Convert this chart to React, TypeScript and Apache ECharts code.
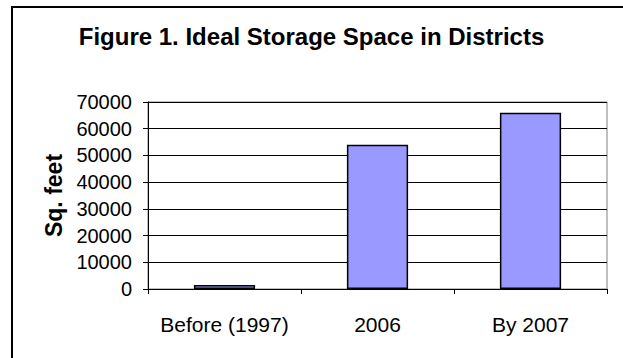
import React, { useEffect, useRef } from "react";
import * as echarts from "echarts";

const titleText = "Figure 1. Ideal Storage Space in Districts";
const categories = ["Before (1997)", "2006", "By 2007"];
const values = [1500, 54000, 66000];
const yAxisName = "Sq. feet";
const yMin = 0;
const yMax = 70000;
const yInterval = 10000;

export default function App() {
  const ref = useRef<HTMLDivElement>(null);
  useEffect(() => {
    if (!ref.current) return;
    const chart = echarts.init(ref.current, null, { renderer: "svg" });
    const font = "Liberation Sans, Arial, sans-serif";
    chart.setOption({
      animation: false,
      backgroundColor: "#ffffff",
      title: {
        text: titleText,
        left: "center",
        top: 19,
        textStyle: { fontFamily: font, fontSize: 24, fontWeight: "bold", color: "#000" },
      },
      graphic: [
        {
          type: "rect",
          shape: { x: 12, y: 7, width: 700, height: 400 },
          style: { fill: "none", stroke: "#000", lineWidth: 2 },
          silent: true,
          z: -1,
        },
      ],
      grid: {
        left: 148,
        right: 16,
        top: 102,
        bottom: 69,
        show: true,
        borderColor: "#808080",
        borderWidth: 1,
      },
      xAxis: {
        type: "category",
        data: categories,
        axisLine: { lineStyle: { color: "#000", width: 1 } },
        axisTick: { show: true, length: 5, lineStyle: { color: "#000" } },
        axisLabel: {
          fontFamily: font,
          fontSize: 21,
          color: "#000",
          margin: 25,
          interval: 0,
          hideOverlap: false,
        },
      },
      yAxis: {
        type: "value",
        min: yMin,
        max: yMax,
        interval: yInterval,
        name: yAxisName,
        nameLocation: "middle",
        nameGap: 77,
        nameTextStyle: { fontFamily: font, fontSize: 23, fontWeight: "bold", color: "#000" },
        axisLine: { show: true, lineStyle: { color: "#000", width: 1 } },
        axisTick: { show: true, length: 5, lineStyle: { color: "#000" } },
        axisLabel: {
          fontFamily: font,
          fontSize: 20,
          color: "#000",
          margin: 16,
          formatter: (v: number) => String(v),
        },
        splitLine: { show: true, lineStyle: { color: "#000", width: 1 } },
      },
      series: [
        {
          type: "bar",
          data: values,
          barWidth: "40%",
          itemStyle: { color: "#9999FF", borderColor: "#000", borderWidth: 1.5 },
        },
      ],
    });
    return () => chart.dispose();
  }, []);
  return (
    <div
      ref={ref}
      style={{ position: "fixed", left: 0, top: 0, width: 623, height: 358 }}
    />
  );
}
